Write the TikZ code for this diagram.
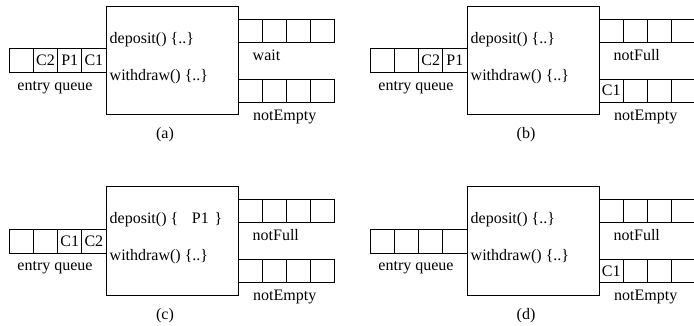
\documentclass[tikz,border=0pt]{standalone}
\usepackage{fontspec}
\setmainfont{Liberation Serif}
\tikzset{
  every node/.style={font=\fontsize{16}{19}\selectfont, inner sep=0pt},
  ln/.style={draw=black, line width=0.8pt},
  ecell/.style={ln, minimum width=24.17pt, minimum height=24pt, anchor=center},
  qcell/.style={ln, minimum width=24pt, minimum height=23pt, anchor=center},
  monbox/.style={ln, minimum width=132.3pt, minimum height=108.3pt, anchor=north west},
  txt/.style={anchor=west},
}
\newcommand\monpanel[8]{%
  \begin{scope}[shift={(#1,#2)}]
    \node[monbox] (#3-box) at (106,6) {};
    \foreach \t [count=\i] in {#4}
      \node[ecell] (#3-e\i) at ({9.3+24.17*(\i-0.5)},60.7) {\t};
    \foreach \i in {1,2,3,4}
      \node[qcell] (#3-t\i) at ({238.3+24*(\i-0.5)},30.5) {};
    \node[qcell] (#3-b1) at (250.3,90.5) {#7};
    \foreach \i in {2,3,4}
      \node[qcell] (#3-b\i) at ({238.3+24*(\i-0.5)},90.5) {};
    \node[txt] (#3-dep) at (109.5,39.3) {#5};
    \node[txt] (#3-wd) at (109.5,76.5) {withdraw() \{..\}};
    \node[txt] (#3-tl) at (252.5,55) {#6};
    \node[txt] (#3-bl) at (253,117) {notEmpty};
    \node (#3-el) at (55,87.5) {entry queue};
    \node (#3-pl) at (165,135) {#8};
  \end{scope}}
\begin{document}
\begin{tikzpicture}[x=1pt,y=-1pt]
  \useasboundingbox (0,0) rectangle (694,326);
  \clip (0,0) rectangle (694,326);
  \monpanel{0}{0}{a}{{},C2,P1,C1}{deposit() \{..\}}{wait}{}{(a)}
  \monpanel{361}{0}{b}{{},{},C2,P1}{deposit() \{..\}}{notFull}{C1}{(b)}
  \monpanel{0}{180.3}{c}{{},{},C1,C2}{deposit() \{\hspace{0.85em}P1\hspace{0.37em}\}}{notFull}{}{(c)}
  \monpanel{361}{180.3}{d}{{},{},{},{}}{deposit() \{..\}}{notFull}{C1}{(d)}
\end{tikzpicture}
\end{document}
